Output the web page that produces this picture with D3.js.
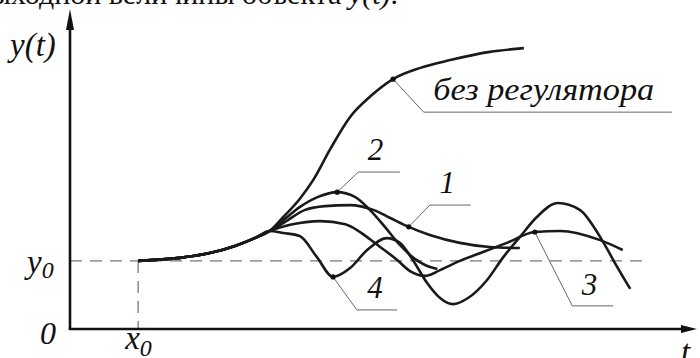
<!DOCTYPE html>
<html>
<head>
<meta charset="utf-8">
<script src="https://cdn.jsdelivr.net/npm/d3@7"></script>
<style>
body { margin: 0; background: #fff; }
svg { display: block; }
</style>
</head>
<body>
<div id="chart"></div>
<script>
// caption line cut off at the top of the picture
var captionText = "Изменения выходной величины объекта ";

// common start of all curves, from (x0, y0)
var trunkT = [1.00, 1.61, 2.05, 2.42, 2.71, 2.93];
var trunkY = [2.00, 2.09, 2.23, 2.44, 2.67, 2.88];

// без регулятора
var noRegT = [3.13, 3.37, 3.57, 3.82, 4.11, 4.40, 4.74, 5.14, 5.58, 6.16, 6.66];
var noRegY = [3.29, 3.82, 4.38, 5.29, 6.23, 6.82, 7.34, 7.67, 7.90, 8.14, 8.25];
// curve 2
var c2T = [3.15, 3.37, 3.64, 3.92, 4.18, 4.40, 4.62, 4.84, 5.06, 5.21, 5.39];
var c2Y = [3.23, 3.58, 3.88, 4.02, 3.88, 3.50, 3.00, 2.47, 2.06, 1.88, 1.76];
// curve 1
var c1T = [3.15, 3.45, 3.74, 4.11, 4.45, 4.70, 4.97, 5.28, 5.72, 6.16, 6.60];
var c1Y = [3.14, 3.50, 3.61, 3.64, 3.50, 3.26, 3.00, 2.76, 2.53, 2.41, 2.38];
// curve 3
var c3T = [3.23, 3.67, 4.04, 4.36, 4.55, 4.80, 4.99, 5.21, 5.43, 5.72, 6.06, 6.41, 6.82, 7.19, 7.78, 8.11];
var c3Y = [3.06, 3.17, 3.08, 2.70, 2.41, 2.03, 1.70, 1.56, 1.73, 2.00, 2.26, 2.53, 2.85, 2.88, 2.61, 2.32];
// curve 4
var c4T = [3.13, 3.37, 3.62, 3.86, 4.11, 4.36, 4.65, 4.84, 5.03, 5.24, 5.43, 5.62, 5.84, 6.12, 6.35, 6.60, 6.85, 7.16, 7.48, 7.78, 8.03, 8.22];
var c4Y = [2.82, 2.73, 2.12, 1.53, 1.79, 2.32, 2.67, 2.53, 2.03, 1.35, 0.91, 0.73, 0.91, 1.44, 2.09, 2.70, 3.29, 3.70, 3.50, 2.70, 1.82, 1.18];

// callouts: label, which point of the curve carries the dot, leader elbow and end, text spot
var noteText = ["без регулятора", "2", "1", "3", "4"];
var noteIdx = [6, 3, 6, 12, 3];
var noteElbowT = [5.19, 4.23, 5.28, 7.37, 4.21];
var noteElbowY = [6.37, 4.61, 3.64, 0.68, 0.56];
var noteEndT = [8.83, 4.84, 5.88, 7.97, 4.80];
var noteTextT = [5.33, 4.37, 5.42, 7.51, 4.36];
var noteTextY = [6.73, 4.96, 4.00, 1.00, 0.91];

// axis marks
var x0 = 1.0, y0 = 2.0;
var tMax = 9.2, yMax = 9.4;

var W = 700, H = 358;
var x = d3.scaleLinear().domain([0, tMax]).range([70, 697]);
var y = d3.scaleLinear().domain([0, yMax]).range([329, 9]);

var svg = d3.select("#chart").append("svg").attr("width", W).attr("height", H);

function label(px, py, size) {
    return svg.append("text").attr("x", px).attr("y", py)
        .style("font-family", "'Liberation Serif'").style("font-style", "italic")
        .style("font-size", size + "px").attr("fill", "#111");
}

// caption (only its lower edge is visible)
var cap = label(398, 4, 30).attr("text-anchor", "end").style("font-style", "normal");
cap.append("tspan").text(captionText);
cap.append("tspan").style("font-style", "italic").text("y(t)");
cap.append("tspan").text(".");

// dashed guides
svg.append("line")
    .attr("x1", x(0)).attr("x2", x(8.41)).attr("y1", y(y0)).attr("y2", y(y0))
    .attr("stroke", "#777").attr("stroke-width", 1.3).attr("stroke-dasharray", "12,8");
svg.append("line")
    .attr("x1", x(x0)).attr("x2", x(x0)).attr("y1", y(y0)).attr("y2", y(0))
    .attr("stroke", "#777").attr("stroke-width", 1.3).attr("stroke-dasharray", "12,8");

// axes with arrows
svg.append("line").attr("x1", x(0)).attr("y1", y(0)).attr("x2", x(0)).attr("y2", y(yMax) + 16)
    .attr("stroke", "#111").attr("stroke-width", 2.6);
svg.append("path").attr("d", "M" + x(0) + "," + y(yMax) + "l-4,21l8,0z").attr("fill", "#111");
svg.append("line").attr("x1", x(0) - 1.3).attr("y1", y(0)).attr("x2", x(tMax) - 12).attr("y2", y(0))
    .attr("stroke", "#111").attr("stroke-width", 2.6);
svg.append("path").attr("d", "M" + x(tMax) + "," + y(0) + "l-16,-4l0,8z").attr("fill", "#111");

// curves
function pts(ts, ys) {
    var a = trunkT.map(function(t, i){ return [t, trunkY[i]]; });
    return a.concat(ts.map(function(t, i){ return [t, ys[i]]; }));
}
var line = d3.line().x(function(d){ return x(d[0]); }).y(function(d){ return y(d[1]); })
    .curve(d3.curveMonotoneX);

var curves = [[noRegT, noRegY], [c2T, c2Y], [c1T, c1Y], [c3T, c3Y], [c4T, c4Y]];
curves.forEach(function(c){
    svg.append("path").attr("d", line(pts(c[0], c[1])))
        .attr("fill", "none").attr("stroke", "#1a1a1a").attr("stroke-width", 2.6)
        .attr("stroke-linejoin", "round").attr("stroke-linecap", "butt");
});

// callouts
noteText.forEach(function(txt, i){
    var ct = curves[i][0][noteIdx[i]], cy = curves[i][1][noteIdx[i]];
    svg.append("polyline")
        .attr("points", [[x(ct), y(cy)], [x(noteElbowT[i]), y(noteElbowY[i])], [x(noteEndT[i]), y(noteElbowY[i])]].join(" "))
        .attr("fill", "none").attr("stroke", "#666").attr("stroke-width", 1);
    svg.append("circle").attr("cx", x(ct)).attr("cy", y(cy)).attr("r", 2.6).attr("fill", "#111");
    var t = label(x(noteTextT[i]), y(noteTextY[i]), 31).text(txt);
    if (i == 0) t.attr("textLength", 221).attr("lengthAdjust", "spacingAndGlyphs");
});

// axis labels
label(10, 56, 33).text("y(t)");
var y0l = label(27, y(y0) + 12, 33);
y0l.append("tspan").text("y");
y0l.append("tspan").attr("dy", 5).style("font-size", "24px").text("0");
label(40, y(0) + 15, 32).text("0");
var x0l = label(x(x0) - 13, y(0) + 20, 33);
x0l.append("tspan").text("x");
x0l.append("tspan").attr("dy", 7).style("font-size", "24px").text("0");
label(681, 363, 33).text("t");
</script>
</body>
</html>
